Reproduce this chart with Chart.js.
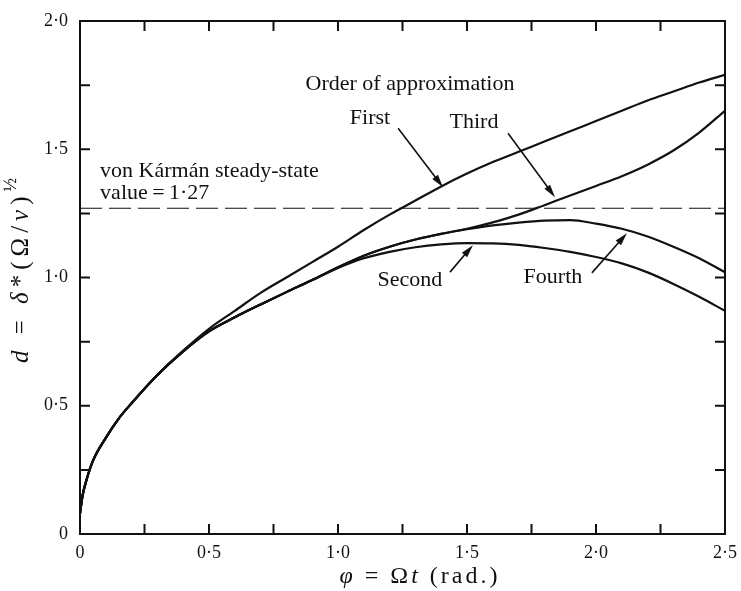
<!DOCTYPE html>
<html>
<head>
<meta charset="utf-8">
<script src="https://cdn.jsdelivr.net/npm/chart.js@4"></script>
<style>
  html, body { margin: 0; padding: 0; background: #fff; }
  canvas { display: block; }
</style>
</head>
<body>
<canvas id="chart" width="741" height="591"></canvas>
<script>
// phi = Omega t (rad.)
const phi    = [0, 0.01, 0.025, 0.05, 0.1, 0.15, 0.2, 0.3, 0.4, 0.5, 0.6, 0.7, 0.8, 0.9, 1.0,
                1.1, 1.2, 1.3, 1.4, 1.5, 1.6, 1.7, 1.8, 1.9, 2.0, 2.1, 2.2, 2.3, 2.4, 2.5];

// d = delta* (Omega/nu)^1/2 for each order of approximation
const first  = [0.08, 0.15, 0.21, 0.285, 0.375, 0.45, 0.51, 0.62, 0.715, 0.80, 0.87, 0.94, 1.00, 1.06, 1.12,
                1.185, 1.245, 1.30, 1.355, 1.405, 1.45, 1.49, 1.53, 1.57, 1.61, 1.65, 1.69, 1.725, 1.76, 1.79];
const second = [0.08, 0.15, 0.21, 0.285, 0.375, 0.45, 0.51, 0.62, 0.712, 0.79, 0.845, 0.895, 0.943, 0.99, 1.037,
                1.075, 1.10, 1.118, 1.129, 1.134, 1.133, 1.127, 1.115, 1.10, 1.08, 1.055, 1.02, 0.975, 0.925, 0.87];
const third  = [0.08, 0.15, 0.21, 0.285, 0.375, 0.45, 0.51, 0.62, 0.712, 0.79, 0.845, 0.895, 0.943, 0.99, 1.04,
                1.085, 1.12, 1.148, 1.17, 1.19, 1.215, 1.245, 1.282, 1.32, 1.357, 1.395, 1.44, 1.495, 1.565, 1.65];
const fourth = [0.08, 0.15, 0.21, 0.285, 0.375, 0.45, 0.51, 0.62, 0.712, 0.79, 0.845, 0.895, 0.943, 0.99, 1.04,
                1.085, 1.12, 1.148, 1.17, 1.188, 1.203, 1.214, 1.222, 1.224, 1.21, 1.19, 1.16, 1.12, 1.075, 1.02];

// von Karman steady-state value
const steadyX = [0, 2.5];
const steadyY = [1.27, 1.27];

// annotations (data coordinates)
const noteText  = ['Order of approximation', 'First', 'Third', 'Second', 'Fourth',
                   'von K\u00e1rm\u00e1n steady-state', 'value\u2009=\u20091\u00b727'];
const noteX     = [1.279, 1.124, 1.527, 1.279, 1.833, 0.078, 0.078];
const noteY     = [1.753, 1.620, 1.605, 0.990, 1.002, 1.414, 1.329];
const noteAlign = ['center', 'center', 'center', 'center', 'center', 'left', 'left'];

const arrowFromX = [1.233, 1.659, 1.434, 1.984];
const arrowFromY = [1.582, 1.562, 1.021, 1.018];
const arrowToX   = [1.407, 1.841, 1.523, 2.120];
const arrowToY   = [1.352, 1.313, 1.126, 1.173];

const SERIF = '"Liberation Serif", "DejaVu Serif", serif';
const INK = '#111';

function pts(xs, ys) { return xs.map((x, i) => ({ x, y: ys[i] })); }

function curve(data) {
  return {
    data,
    borderColor: INK,
    borderWidth: 2.2,
    pointRadius: 0,
    fill: false,
    cubicInterpolationMode: 'monotone',
  };
}

function fmtTick(v) {
  const r = Math.round(v * 4);
  if (r % 2 !== 0) return '';
  if (r === 0) return '0';
  return (v).toFixed(1).replace('.', '\u00b7');
}

// draws text made of segments [text, italic, superscript]
function drawRich(ctx, segs, cx, cy, size, rotate, spacing) {
  ctx.save();
  ctx.translate(cx, cy);
  if (rotate) ctx.rotate(-Math.PI / 2);
  ctx.letterSpacing = spacing + 'px';
  const fontOf = s => `${s[1] ? 'italic ' : ''}${s[2] ? Math.round(size * 0.7) : size}px ${SERIF}`;
  let total = 0;
  for (const s of segs) { ctx.font = fontOf(s); total += ctx.measureText(s[0]).width; }
  let x = -total / 2;
  ctx.textBaseline = 'middle';
  ctx.textAlign = 'left';
  ctx.fillStyle = INK;
  for (const s of segs) {
    ctx.font = fontOf(s);
    ctx.fillText(s[0], x, s[2] ? -size * 0.4 : 0);
    x += ctx.measureText(s[0]).width;
  }
  ctx.restore();
}

const framePlugin = {
  id: 'frame',
  afterDatasetsDraw(chart) {
    const { ctx, chartArea: a, scales: { x, y } } = chart;
    ctx.save();
    ctx.strokeStyle = INK;
    ctx.lineWidth = 2;
    ctx.strokeRect(a.left, a.top, a.right - a.left, a.bottom - a.top);

    // inward ticks on all four sides
    const len = 10;
    ctx.beginPath();
    for (const t of x.ticks) {
      const px = x.getPixelForValue(t.value);
      ctx.moveTo(px, a.bottom); ctx.lineTo(px, a.bottom - len);
      ctx.moveTo(px, a.top);    ctx.lineTo(px, a.top + len);
    }
    for (const t of y.ticks) {
      const py = y.getPixelForValue(t.value);
      ctx.moveTo(a.left, py);  ctx.lineTo(a.left + len, py);
      ctx.moveTo(a.right, py); ctx.lineTo(a.right - len, py);
    }
    ctx.stroke();

    // labels
    ctx.fillStyle = INK;
    ctx.font = `22px ${SERIF}`;
    ctx.textBaseline = 'middle';
    noteText.forEach((txt, i) => {
      ctx.textAlign = noteAlign[i];
      ctx.fillText(txt, x.getPixelForValue(noteX[i]), y.getPixelForValue(noteY[i]));
    });

    // arrows
    ctx.lineWidth = 1.6;
    arrowFromX.forEach((fx, i) => {
      const x0 = x.getPixelForValue(fx), y0 = y.getPixelForValue(arrowFromY[i]);
      const x1 = x.getPixelForValue(arrowToX[i]), y1 = y.getPixelForValue(arrowToY[i]);
      const ang = Math.atan2(y1 - y0, x1 - x0);
      const hl = 13, hw = 3.5;
      ctx.beginPath();
      ctx.moveTo(x0, y0);
      ctx.lineTo(x1 - Math.cos(ang) * hl * 0.8, y1 - Math.sin(ang) * hl * 0.8);
      ctx.stroke();
      ctx.beginPath();
      ctx.moveTo(x1, y1);
      ctx.lineTo(x1 - Math.cos(ang) * hl - Math.sin(ang) * hw, y1 - Math.sin(ang) * hl + Math.cos(ang) * hw);
      ctx.lineTo(x1 - Math.cos(ang) * hl + Math.sin(ang) * hw, y1 - Math.sin(ang) * hl - Math.cos(ang) * hw);
      ctx.closePath();
      ctx.fill();
    });

    // axis titles
    drawRich(ctx, [['\u03c6', true], [' = \u03a9', false], ['t', true], [' (rad.)', false]],
             420, 577, 24, false, 3);
    drawRich(ctx, [['d', true], [' = ', false], ['\u03b4', true], ['*(\u03a9/', false], ['\u03bd', true],
                   [')', false], ['\u00bd', false, true]],
             21, 268, 25, true, 5);
    ctx.restore();
  },
};

new Chart(document.getElementById('chart'), {
  type: 'line',
  data: {
    datasets: [
      curve(pts(phi, first)),
      curve(pts(phi, second)),
      curve(pts(phi, third)),
      curve(pts(phi, fourth)),
      {
        data: pts(steadyX, steadyY),
        borderColor: INK,
        borderWidth: 1.2,
        borderDash: [22, 7],
        pointRadius: 0,
        fill: false,
      },
    ],
  },
  options: {
    responsive: false,
    animation: false,
    devicePixelRatio: 1,
    layout: { padding: { left: 0, right: 16, top: 21, bottom: 0 } },
    plugins: { legend: { display: false }, tooltip: { enabled: false } },
    scales: {
      x: {
        type: 'linear',
        min: 0, max: 2.5,
        grid: { display: false },
        border: { display: false },
        ticks: {
          stepSize: 0.25,
          autoSkip: false,
          maxRotation: 0,
          padding: 0,
          color: INK,
          font: { family: SERIF, size: 18 },
          callback: fmtTick,
        },
        afterFit(scale) { scale.height = 57; },
      },
      y: {
        type: 'linear',
        min: 0, max: 2.0,
        grid: { display: false },
        border: { display: false },
        ticks: {
          stepSize: 0.25,
          autoSkip: false,
          padding: 4,
          color: INK,
          font: { family: SERIF, size: 18 },
          callback: fmtTick,
        },
        afterFit(scale) { scale.width = 80; },
      },
    },
  },
  plugins: [framePlugin],
});
</script>
</body>
</html>
